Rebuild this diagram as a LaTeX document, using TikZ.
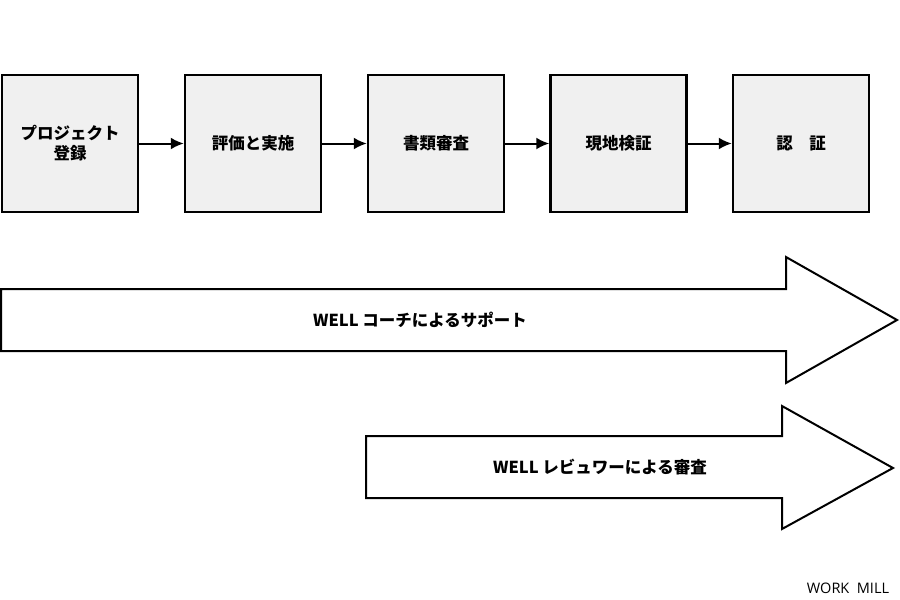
\documentclass[tikz,border=0pt]{standalone}
\usepackage{fontspec}
\newfontfamily\jp{Noto Sans CJK JP}
\newfontfamily\wm{Open Sans}
\usetikzlibrary{arrows.meta}
\definecolor{boxgray}{HTML}{F0F0F0}
\tikzset{
  stepbox/.style={draw=black, line width=2.5pt, fill=boxgray, minimum width=136pt, minimum height=137pt, inner sep=0pt, align=center, font=\jp\bfseries\fontsize{16.5}{20}\selectfont},
  flow/.style={line width=2pt, -{Latex[length=13pt,width=12pt]}},
  bigarrow/.style={draw=black, line width=2pt, fill=white, line join=miter},
  arrowtext/.style={font=\jp\bfseries\fontsize{16.5}{20}\selectfont}
}
\begin{document}
\begin{tikzpicture}[x=1pt,y=-1pt]
\useasboundingbox (0,0) rectangle (900,600);
\node[stepbox] (b1) at (70,143.5) {プロジェクト\\登録};
\node[stepbox] (b2) at (253,143.5) {評価と実施};
\node[stepbox] (b3) at (436,143.5) {書類審査};
\node[stepbox] (b4) at (618.5,143.5) {現地検証};
\node[stepbox] (b5) at (801,143.5) {認　証};
\draw[flow] (b1) -- (b2);
\draw[flow] (b2) -- (b3);
\draw[flow] (b3) -- (b4);
\draw[flow] (b4) -- (b5);
\draw[bigarrow] (1,289) -- (786,289) -- (786,257) -- (897,320) -- (786,383) -- (786,351) -- (1,351) -- cycle;
\node[arrowtext] (t1) at (420,320) {WELL コーチによるサポート};
\draw[bigarrow] (366,436) -- (782,436) -- (782,406) -- (893,468) -- (782,529) -- (782,498) -- (366,498) -- cycle;
\node[arrowtext] (t2) at (600,467) {WELL レビュワーによる審査};
\node[font=\wm\fontsize{14.5}{17}\selectfont] (wm) at (848,588) {WORK\ \ MILL};
\end{tikzpicture}
\end{document}
